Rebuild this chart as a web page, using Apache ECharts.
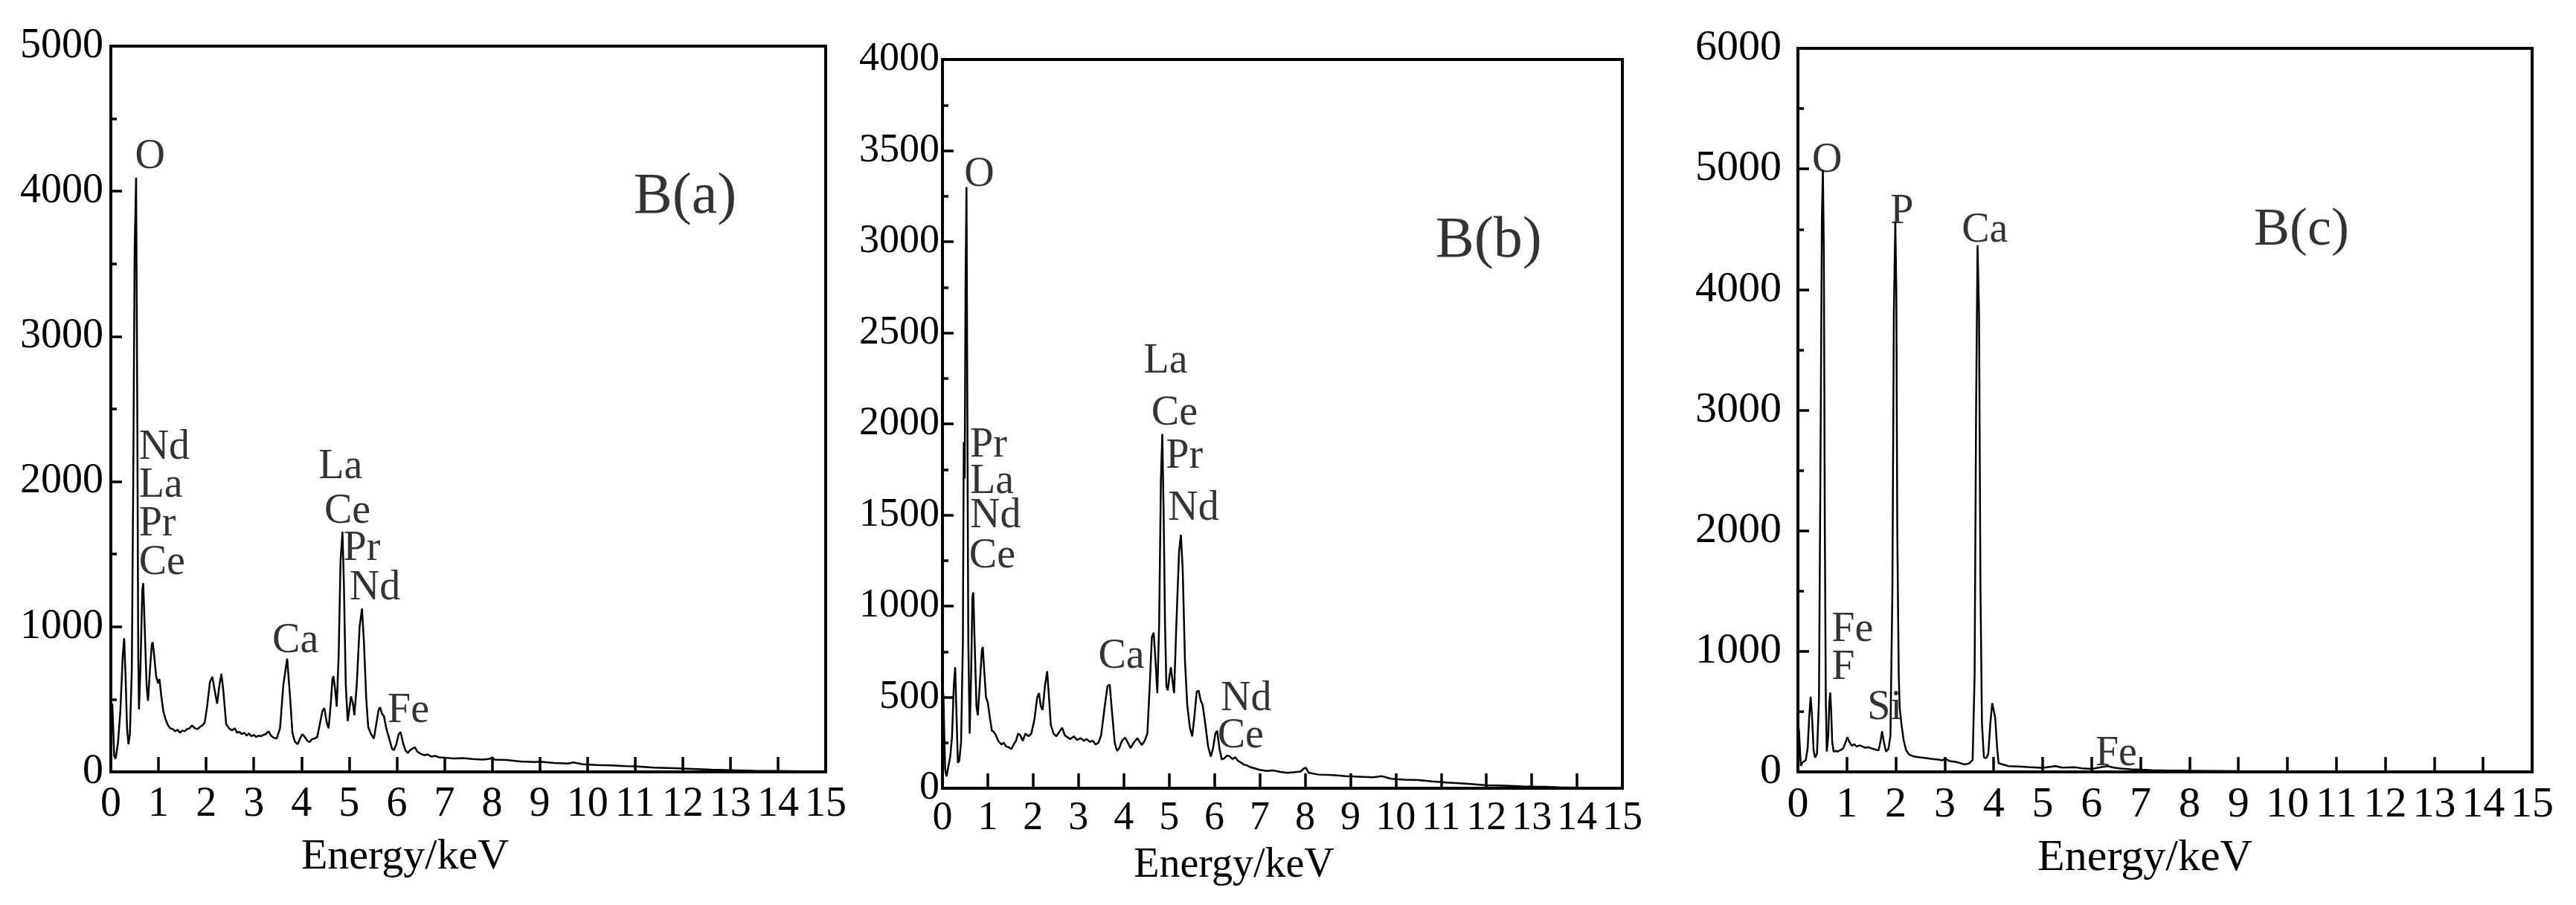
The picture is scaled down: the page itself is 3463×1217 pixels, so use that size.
<!DOCTYPE html>
<html>
<head>
<meta charset="utf-8">
<style>
html,body{margin:0;padding:0;background:#fff;}
#chart{width:3463px;height:1217px;}
</style>
<script src="https://cdn.jsdelivr.net/npm/echarts@6/dist/echarts.min.js"></script>
</head>
<body>
<div id="chart"></div>
<script>
// ---------- data (Energy keV, counts) ----------
var specA = [
[0.03,470],[0.05,300],[0.07,110],[0.1,90],[0.15,200],[0.2,420],[0.25,800],[0.28,920],[0.31,650],[0.34,300],[0.37,190],[0.4,260],[0.44,700],[0.47,2000],[0.5,3600],[0.53,4095],[0.555,2500],[0.575,800],[0.59,430],[0.62,700],[0.66,1250],[0.68,1300],[0.71,1000],[0.75,600],[0.78,490],[0.82,700],[0.86,880],[0.88,893],[0.91,800],[0.95,660],[0.99,610],[1.02,640],[1.06,520],[1.1,420],[1.15,360],[1.2,320],[1.25,300],[1.3,295],[1.35,280],[1.4,290],[1.45,270],[1.5,285],[1.55,280],[1.6,295],[1.65,300],[1.7,320],[1.73,330],[1.77,300],[1.82,295],[1.87,310],[1.92,320],[1.97,340],[2.02,450],[2.08,620],[2.13,655],[2.18,560],[2.23,470],[2.28,600],[2.32,675],[2.36,560],[2.42,330],[2.48,300],[2.54,285],[2.6,300],[2.65,270],[2.7,275],[2.75,260],[2.8,270],[2.85,250],[2.9,265],[2.95,245],[3.0,255],[3.05,240],[3.1,250],[3.15,245],[3.2,255],[3.25,260],[3.31,280],[3.36,250],[3.42,235],[3.48,230],[3.55,300],[3.62,600],[3.7,780],[3.76,520],[3.81,270],[3.86,210],[3.92,190],[3.97,230],[4.02,260],[4.07,240],[4.12,215],[4.17,205],[4.22,225],[4.28,230],[4.33,240],[4.38,320],[4.44,420],[4.48,440],[4.53,340],[4.57,300],[4.61,450],[4.65,640],[4.67,660],[4.71,560],[4.74,450],[4.78,800],[4.82,1450],[4.86,1655],[4.89,1300],[4.93,600],[4.97,350],[5.0,420],[5.04,520],[5.08,470],[5.11,390],[5.16,600],[5.22,1000],[5.27,1125],[5.31,900],[5.36,500],[5.4,310],[5.46,260],[5.52,230],[5.57,330],[5.62,430],[5.65,445],[5.69,400],[5.73,385],[5.78,300],[5.84,230],[5.9,160],[5.94,150],[5.99,190],[6.04,260],[6.08,275],[6.13,200],[6.18,150],[6.23,130],[6.28,150],[6.33,160],[6.38,170],[6.43,140],[6.5,125],[6.58,115],[6.65,120],[6.72,105],[6.8,110],[6.9,100],[7.0,98],[7.2,92],[7.4,95],[7.6,88],[7.8,85],[7.95,90],[8.0,100],[8.05,85],[8.3,82],[8.6,72],[8.9,68],[9.0,70],[9.3,62],[9.6,58],[9.7,65],[9.9,52],[10.2,48],[10.5,45],[10.8,40],[11.0,38],[11.4,30],[11.8,25],[12.2,20],[12.6,15],[13.0,12],[13.5,8],[14.0,6],[14.5,4],[15,3]
];
var specB = [
[0.02,520],[0.04,300],[0.06,100],[0.09,65],[0.13,120],[0.17,170],[0.21,280],[0.25,560],[0.28,664],[0.31,400],[0.34,140],[0.37,150],[0.41,250],[0.45,800],[0.47,1900],[0.49,1700],[0.51,2800],[0.53,3300],[0.55,2000],[0.57,800],[0.6,300],[0.63,600],[0.66,1050],[0.68,1075],[0.71,800],[0.75,450],[0.78,400],[0.82,560],[0.87,760],[0.89,775],[0.92,650],[0.96,500],[1.0,470],[1.05,380],[1.09,316],[1.13,310],[1.18,290],[1.23,260],[1.3,240],[1.35,250],[1.4,230],[1.46,225],[1.52,215],[1.57,240],[1.62,260],[1.67,300],[1.72,290],[1.77,260],[1.83,300],[1.9,285],[1.96,300],[2.03,380],[2.09,500],[2.13,522],[2.17,450],[2.21,430],[2.26,560],[2.31,642],[2.35,500],[2.39,348],[2.45,300],[2.51,285],[2.58,310],[2.64,332],[2.7,290],[2.76,280],[2.82,270],[2.9,285],[2.97,265],[3.05,275],[3.12,260],[3.18,270],[3.25,255],[3.32,260],[3.38,240],[3.44,250],[3.5,290],[3.58,450],[3.64,560],[3.69,569],[3.74,420],[3.8,250],[3.85,205],[3.9,220],[3.96,260],[4.03,278],[4.09,250],[4.15,221],[4.22,250],[4.3,275],[4.35,255],[4.4,237],[4.46,260],[4.52,300],[4.57,550],[4.62,830],[4.66,854],[4.7,700],[4.74,522],[4.78,900],[4.82,1700],[4.85,1945],[4.88,1500],[4.91,900],[4.94,560],[4.97,537],[5.01,620],[5.04,664],[5.08,580],[5.11,522],[5.16,900],[5.22,1300],[5.26,1391],[5.3,1200],[5.35,700],[5.4,458],[5.46,330],[5.51,285],[5.56,400],[5.61,530],[5.65,537],[5.7,480],[5.74,458],[5.8,350],[5.86,230],[5.92,174],[5.97,220],[6.02,300],[6.06,316],[6.11,220],[6.16,158],[6.22,165],[6.28,180],[6.34,174],[6.4,160],[6.46,170],[6.52,150],[6.58,142],[6.65,130],[6.72,125],[6.8,115],[6.9,108],[7.0,101],[7.15,95],[7.3,98],[7.45,90],[7.6,85],[7.75,88],[7.9,92],[7.97,108],[8.02,112],[8.08,85],[8.3,75],[8.6,72],[8.9,66],[9.2,63],[9.5,60],[9.7,66],[9.9,52],[10.2,47],[10.5,45],[10.8,38],[11.1,32],[11.4,28],[11.7,22],[12.0,16],[12.4,14],[12.8,10],[13.0,9],[13.3,8],[13.6,5],[14.0,3],[14.5,2],[15,1]
];
var specC = [
[0.02,360],[0.04,200],[0.06,50],[0.1,80],[0.16,96],[0.2,200],[0.23,450],[0.26,624],[0.29,450],[0.32,180],[0.35,120],[0.39,150],[0.43,600],[0.46,2500],[0.49,4600],[0.51,4990],[0.53,4300],[0.55,2000],[0.57,600],[0.59,168],[0.62,300],[0.64,560],[0.66,658],[0.68,500],[0.7,250],[0.73,168],[0.77,175],[0.81,168],[0.86,180],[0.92,192],[0.97,240],[1.01,288],[1.05,250],[1.1,216],[1.15,230],[1.2,210],[1.26,220],[1.32,210],[1.38,200],[1.44,205],[1.5,195],[1.55,190],[1.6,182],[1.65,180],[1.69,260],[1.72,336],[1.75,260],[1.8,168],[1.85,190],[1.89,300],[1.93,1500],[1.96,3800],[1.99,4560],[2.01,4000],[2.03,2000],[2.06,800],[2.08,528],[2.12,380],[2.16,264],[2.21,180],[2.27,144],[2.35,130],[2.42,125],[2.5,120],[2.6,115],[2.7,110],[2.8,105],[2.9,100],[2.95,96],[3.0,110],[3.1,90],[3.2,85],[3.3,75],[3.4,62],[3.5,70],[3.57,100],[3.61,800],[3.64,3000],[3.67,4368],[3.7,3800],[3.73,1500],[3.76,400],[3.8,120],[3.85,115],[3.89,150],[3.93,400],[3.97,570],[4.0,576],[4.03,450],[4.07,200],[4.1,72],[4.2,60],[4.3,48],[4.5,45],[4.7,40],[4.9,36],[5.0,34],[5.26,48],[5.4,35],[5.65,38],[5.8,30],[6.0,24],[6.2,40],[6.33,48],[6.45,35],[6.6,28],[6.8,22],[7.0,18],[7.23,14],[7.5,12],[8.0,10],[9.0,6],[10,5],[11,4],[12,3],[13,3],[14,2],[15,2]
];

// peak annotations [E, counts, text]
var tagsA = [[0.50,4234,'O'],[0.58,2230,'Nd'],[0.58,1972,'La'],[0.58,1706,'Pr'],[0.58,1436,'Ce'],[4.35,2099,'La'],[4.47,1794,'Ce'],[4.87,1536,'Pr'],[5.0,1266,'Nd'],[3.38,901,'Ca'],[5.80,417,'Fe']];
var tagsB = [[0.47,3368,'O'],[0.60,1881,'Pr'],[0.60,1682,'La'],[0.60,1492,'Nd'],[0.58,1271,'Ce'],[4.43,2340,'La'],[4.60,2055,'Ce'],[4.92,1818,'Pr'],[4.97,1534,'Nd'],[3.43,721,'Ca'],[6.13,490,'Nd'],[6.06,285,'Ce']];
var tagsC = [[0.28,5064,'O'],[1.88,4642,'P'],[3.34,4488,'Ca'],[0.68,1176,'Fe'],[0.68,864,'F'],[1.41,528,'Si'],[6.07,144,'Fe']];
var titlesA = [[10.96,3956,'B(a)']];
var titlesB = [[10.87,3004,'B(b)']];
var titlesC = [[9.31,4488,'B(c)']];

var xTicks = [0,1,2,3,4,5,6,7,8,9,10,11,12,13,14,15];
var yMax = [5000, 4000, 6000];
var yStep = [1000, 500, 1000];
var xTitle = 'Energy/keV';

// ---------- layout ----------
var FONT = '"Liberation Serif", "Times New Roman", serif';
var grids = [
  {left:149, top:62, width:961, height:976},
  {left:1267, top:80, width:914, height:980},
  {left:2417, top:65, width:987, height:973}
];
var tickFont = [56, 54, 58];
var xMargin = [16, 14, 16];
var yMargin = [10, 4, 22];
var nameGap = [86, 76, 86];
var namePadR = [170, 130, 54];

function plain(v){ return String(v); }

function xAxis(i){
  return {
    type:'value', gridIndex:i, min:0, max:15, interval:1,
    axisLine:{show:true, lineStyle:{color:'#000', width:4}},
    axisTick:{show:true, inside:true, length:20, lineStyle:{color:'#000', width:3.5}},
    axisLabel:{color:'#000', fontFamily:FONT, fontSize:tickFont[i], margin:xMargin[i], formatter:plain},
    splitLine:{show:false},
    name:xTitle, nameLocation:'middle', nameGap:nameGap[i],
    nameTextStyle:{color:'#000', fontFamily:FONT, fontSize:tickFont[i]+2, padding:[0,namePadR[i],0,0]}
  };
}
function yAxis(i){
  return {
    type:'value', gridIndex:i, min:0, max:yMax[i], interval:yStep[i],
    axisLine:{show:true, lineStyle:{color:'#000', width:4}},
    axisTick:{show:true, inside:true, length:15, lineStyle:{color:'#000', width:3.5}},
    minorTick:{show:true, splitNumber:2, length:8, lineStyle:{color:'#000', width:3.5}},
    axisLabel:{color:'#000', fontFamily:FONT, fontSize:tickFont[i], margin:yMargin[i], formatter:plain},
    splitLine:{show:false}
  };
}
function lineSeries(i, d){
  return {type:'line', xAxisIndex:i, yAxisIndex:i, data:d, symbol:'none', smooth:false,
    lineStyle:{color:'#000', width:2.5}, silent:true, z:3};
}
function tagSeries(i, d, size){
  return {type:'scatter', xAxisIndex:i, yAxisIndex:i, symbolSize:1,
    itemStyle:{color:'rgba(0,0,0,0)'}, silent:true, z:5,
    data:d.map(function(t){return {value:[t[0],t[1]], name:t[2]};}),
    label:{show:true, position:'right', distance:0, formatter:'{b}',
      color:'#000', fontFamily:FONT, fontSize:size}};
}

var option = {
  animation:false,
  backgroundColor:'#fff',
  grid: grids.map(function(g){return Object.assign({show:true, borderColor:'#000', borderWidth:4, backgroundColor:'transparent'}, g);}),
  xAxis:[xAxis(0), xAxis(1), xAxis(2)],
  yAxis:[yAxis(0), yAxis(1), yAxis(2)],
  series:[
    lineSeries(0, specA), lineSeries(1, specB), lineSeries(2, specC),
    tagSeries(0, tagsA, 56), tagSeries(1, tagsB, 56), tagSeries(2, tagsC, 56),
    tagSeries(0, titlesA, 78), tagSeries(1, titlesB, 78), tagSeries(2, titlesC, 72)
  ]
};
var chart = echarts.init(document.getElementById('chart'));
chart.setOption(option);
</script>
</body>
</html>
